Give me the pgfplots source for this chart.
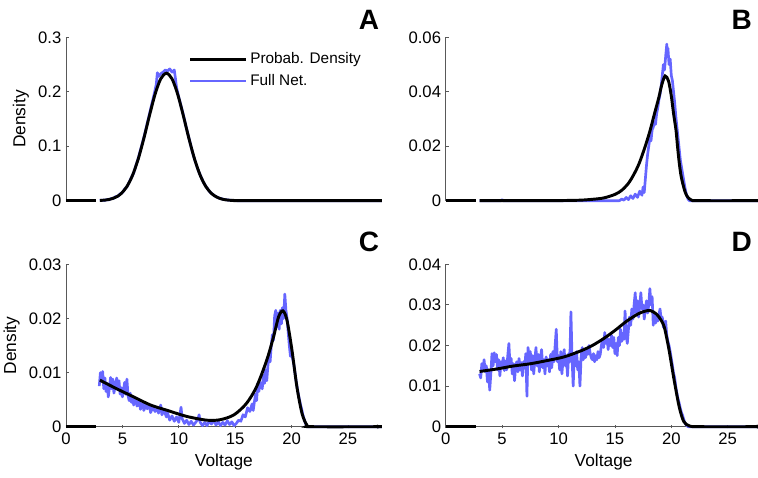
\documentclass[border=0pt]{standalone}
\usepackage{fontspec}
\setmainfont{Liberation Sans}
\usepackage{pgfplots}
\pgfplotsset{compat=1.18}
\definecolor{netblue}{RGB}{102,102,255}
\pgfplotsset{
  panel/.style={
    scale only axis, width=236.85pt, xmin=0, xmax=28, ymin=0,
    axis y line=left,
    axis line style={-, draw=black!65, line width=0.6pt},
    tick align=inside, major tick length=2.5pt,
    tick style={draw=black!65, line width=0.6pt},
    tick label style={font=\fontsize{12.5}{14}\selectfont},
    /pgf/number format/assume math mode=true,
    yticklabel style={/pgf/number format/fixed, /pgf/number format/precision=2},
    scaled y ticks=false,
    label style={font=\fontsize{13}{15}\selectfont},
    clip=false,
  },
  toppanel/.style={panel, axis x line=none, height=122.55pt},
  botpanel/.style={panel, axis x line=bottom, height=121.8pt, xtick={0,5,10,15,20,25}, xlabel={Voltage}},
  bl/.style={black, line width=2.2pt, smooth, tension=0.5},
  nb/.style={netblue, line width=2pt, line join=round},
}
\begin{document}
\begin{tikzpicture}
\useasboundingbox (0,0) rectangle (568.5pt,358.5pt);
% ---------------- A ----------------
\begin{axis}[toppanel, at={(49.5pt,207.98pt)}, anchor=south west,
  ymax=0.3, ytick={0,0.1,0.2,0.3}, ylabel={Density},
  legend style={draw=none, fill=none, at={(0.375,0.94)}, anchor=north west,
    font=\fontsize{11.5}{13}\selectfont, row sep=2.5pt, cells={anchor=west}},
  legend image code/.code={\draw[#1] (0pt,0pt) -- (42pt,0pt);}]
\addplot[nb, forget plot] coordinates {(0,0) (2.7,0)};
\addplot[nb, forget plot] coordinates {
(3.0,0.0003) (3.2,0.0010) (3.4,0.0004) (3.6,0.0020) (3.8,0.0015) (4.0,0.0040)
(4.2,0.0038) (4.4,0.0075) (4.6,0.0080) (4.8,0.0125) (5.0,0.0148) (5.2,0.0212)
(5.4,0.0255) (5.6,0.0340) (5.8,0.0425) (6.0,0.0510) (6.2,0.0645) (6.4,0.0775)
(6.6,0.0930) (6.8,0.1080) (7.0,0.1240) (7.2,0.1420) (7.4,0.1590) (7.6,0.1770)
(7.8,0.1940) (8.0,0.2130) (8.1,0.2350) (8.2,0.2280) (8.4,0.2330) (8.6,0.2360)
(8.8,0.2400) (9.0,0.2380) (9.2,0.2420) (9.4,0.2360) (9.6,0.2400) (9.7,0.2250)
(9.8,0.2080) (10.0,0.1900) (10.2,0.1740) (10.4,0.1580) (10.6,0.1400) (10.8,0.1230)
(11.0,0.1070) (11.2,0.0900) (11.4,0.0760) (11.6,0.0630) (11.8,0.0520) (12.0,0.0425)
(12.2,0.0330) (12.4,0.0265) (12.6,0.0205) (12.8,0.0150) (13.0,0.0118) (13.2,0.0085)
(13.4,0.0065) (13.6,0.0045) (13.8,0.0035) (14.0,0.0022) (14.4,0.0012) (14.8,0.0004)
(15.2,0) (16,0) (28,0)};
\addplot[bl, forget plot] coordinates {(0,0) (2.7,0)};
\addplot[bl, forget plot] coordinates {
(3.0,0.0005) (3.5,0.0012) (4.0,0.0032) (4.5,0.0073) (4.9,0.0133) (5.4,0.0260)
(5.9,0.0466) (6.4,0.0763) (6.9,0.1142) (7.4,0.1563) (7.9,0.1956) (8.4,0.2238)
(8.9,0.2340) (9.4,0.2238) (9.9,0.1956) (10.4,0.1563) (10.9,0.1142) (11.4,0.0763)
(11.9,0.0466) (12.4,0.0260) (12.9,0.0133) (13.4,0.0062) (13.9,0.0026) (14.4,0.0010)
(14.9,0.0004) (16,0) (28,0)};
\addlegendimage{black, line width=2.2pt}
\addlegendentry{Probab. Density}
\addlegendimage{netblue, line width=2pt}
\addlegendentry{Full Net.}
\end{axis}
% ---------------- B ----------------
\begin{axis}[toppanel, at={(334.3pt,207.98pt)}, anchor=south west,
  ymax=0.06, ytick={0,0.02,0.04,0.06}]
\addplot[nb] coordinates {(0,0) (2.7,0)};
\addplot[nb] coordinates {
(3,0) (4.9,0) (5.0,0.0004) (5.1,0) (15.4,0) (15.6,0.0006) (15.8,0.0002) (16.0,0.0012)
(16.2,0.0004) (16.4,0.0018) (16.6,0.0008) (16.8,0.0024) (17.0,0.0012) (17.2,0.0035)
(17.4,0.0020) (17.5,0.0050) (17.6,0.0030) (17.7,0.0080) (17.8,0.0130) (17.9,0.0170)
(18.0,0.0200) (18.1,0.0230) (18.2,0.0220) (18.3,0.0260) (18.4,0.0270) (18.5,0.0290)
(18.6,0.0280) (18.7,0.0320) (18.8,0.0340) (18.9,0.0370) (19.0,0.0390) (19.1,0.0420)
(19.2,0.0460) (19.3,0.0500) (19.4,0.0480) (19.5,0.0530) (19.6,0.0575) (19.65,0.0540)
(19.7,0.0560) (19.8,0.0500) (19.9,0.0520) (20.0,0.0460) (20.1,0.0440) (20.2,0.0400)
(20.3,0.0360) (20.4,0.0310) (20.5,0.0270) (20.6,0.0230) (20.7,0.0190) (20.8,0.0150)
(20.9,0.0125) (21.0,0.0100) (21.1,0.0075) (21.2,0.0050) (21.3,0.0030) (21.4,0.0015)
(21.5,0.0005) (21.6,0) (28,0)};
\addplot[bl] coordinates {(0,0) (2.7,0)};
\addplot[bl] coordinates {
(3,0) (9,0) (11,0.0001) (12,0.0002) (13,0.0005) (14,0.0010) (15,0.0023) (15.6,0.0038)
(16.2,0.0064) (16.7,0.0098) (17.15,0.0137) (17.65,0.0195) (18.1,0.0255) (18.5,0.0318)
(18.9,0.0380) (19.15,0.0425) (19.45,0.0458) (19.75,0.0440) (20.0,0.0385) (20.2,0.0320)
(20.42,0.0258) (20.55,0.0200) (20.71,0.0137) (20.85,0.0095) (21.01,0.0064) (21.2,0.0035)
(21.42,0.0015) (21.8,0.0002) (22.5,0) (28,0)};
\end{axis}
% ---------------- C ----------------
\begin{axis}[botpanel, at={(49.5pt,38.48pt)}, anchor=south west,
  ymax=0.03, ytick={0,0.01,0.02,0.03}, ylabel={Density}]
\addplot[nb] coordinates {(0,0) (2.7,0)};
\addplot[nb] coordinates {
(2.95,0.0075) (3.05,0.0100) (3.15,0.0085) (3.25,0.0102) (3.35,0.0070) (3.45,0.0090)
(3.55,0.0065) (3.65,0.0080) (3.75,0.0055) (3.85,0.0072) (3.95,0.0091) (4.05,0.0070)
(4.15,0.0088) (4.25,0.0062) (4.35,0.0075) (4.5,0.0090) (4.6,0.0068) (4.7,0.0085)
(4.8,0.0060) (4.9,0.0072) (5.0,0.0055) (5.1,0.0068) (5.2,0.0082) (5.3,0.0060)
(5.4,0.0088) (5.5,0.0058) (5.6,0.0048) (5.7,0.0062) (5.8,0.0045) (5.9,0.0055)
(6.0,0.0040) (6.2,0.0052) (6.3,0.0038) (6.5,0.0047) (6.6,0.0032) (6.8,0.0044)
(6.9,0.0030) (7.1,0.0041) (7.2,0.0033) (7.4,0.0040) (7.5,0.0026) (7.7,0.0036)
(7.9,0.0028) (8.1,0.0035) (8.2,0.0025) (8.4,0.0040) (8.5,0.0022) (8.7,0.0030)
(8.9,0.0018) (9.0,0.0026) (9.2,0.0012) (9.4,0.0020) (9.6,0.0010) (9.8,0.0018)
(10.0,0.0008) (10.1,0.0022) (10.2,0.0036) (10.3,0.0015) (10.5,0.0006) (10.7,0.0012)
(10.9,0.0004) (11.1,0.0010) (11.3,0.0003) (11.5,0.0008) (11.7,0.0014) (11.8,0.0022)
(11.9,0.0008) (12.1,0.0002) (12.3,0.0008) (12.5,0.0002) (12.7,0.0010) (12.9,0.0005)
(13.1,0.0012) (13.3,0.0003) (13.5,0.0009) (13.7,0.0002) (13.9,0.0008) (14.1,0.0003)
(14.3,0.0011) (14.5,0.0004) (14.7,0.0009) (14.9,0.0002) (15.1,0.0006) (15.3,0.0012)
(15.5,0.0010) (15.7,0.0022) (15.9,0.0018) (16.1,0.0035) (16.3,0.0028) (16.5,0.0042)
(16.6,0.0030) (16.8,0.0060) (16.9,0.0048) (17.0,0.0080) (17.1,0.0065) (17.2,0.0082)
(17.4,0.0070) (17.5,0.0095) (17.6,0.0080) (17.7,0.0105) (17.8,0.0085) (17.9,0.0112)
(18.0,0.0130) (18.1,0.0120) (18.2,0.0150) (18.3,0.0170) (18.4,0.0160) (18.5,0.0205)
(18.6,0.0215) (18.7,0.0185) (18.8,0.0210) (18.9,0.0180) (19.0,0.0215) (19.1,0.0190)
(19.2,0.0220) (19.3,0.0200) (19.4,0.0245) (19.5,0.0215) (19.6,0.0200) (19.7,0.0175)
(19.8,0.0150) (19.9,0.0130) (20.0,0.0135) (20.1,0.0125) (20.2,0.0115) (20.3,0.0100)
(20.4,0.0085) (20.5,0.0072) (20.6,0.0060) (20.7,0.0050) (20.8,0.0040) (20.9,0.0032)
(21.0,0.0022) (21.1,0.0015) (21.2,0.0008) (21.3,0.0003) (21.4,0) (28,0)};
\addplot[bl] coordinates {(0,0) (2.7,0)};
\addplot[bl] coordinates {
(3,0.0086) (4.5,0.0070) (6.0,0.0055) (7.5,0.0040) (9.0,0.0030) (10.7,0.0019)
(12.5,0.0012) (13.7,0.0013) (14.9,0.0022) (16.0,0.0043) (16.9,0.0074) (17.8,0.0123)
(18.4,0.0166) (18.85,0.0203) (19.23,0.0214) (19.59,0.0197) (20.03,0.0142) (20.47,0.0074)
(20.92,0.0025) (21.36,0.0003) (21.8,0) (28,0)};
\end{axis}
% ---------------- D ----------------
\begin{axis}[botpanel, at={(334.3pt,38.48pt)}, anchor=south west,
  ymax=0.04, ytick={0,0.01,0.02,0.03,0.04}]
\addplot[nb] coordinates {(0,0) (2.7,0)};
\addplot[nb] coordinates {
(3.0,0.0130) (3.1,0.0120) (3.2,0.0155) (3.3,0.0140) (3.4,0.0165) (3.5,0.0135)
(3.6,0.0150) (3.7,0.0110) (3.8,0.0140) (3.9,0.0090) (4.0,0.0130) (4.1,0.0180)
(4.2,0.0150) (4.3,0.0182) (4.4,0.0160) (4.5,0.0178) (4.6,0.0140) (4.7,0.0165)
(4.8,0.0125) (4.9,0.0160) (5.0,0.0148) (5.1,0.0170) (5.2,0.0138) (5.3,0.0162)
(5.4,0.0140) (5.5,0.0175) (5.6,0.0205) (5.7,0.0150) (5.8,0.0168) (5.9,0.0130)
(6.0,0.0155) (6.1,0.0113) (6.2,0.0150) (6.3,0.0160) (6.4,0.0135) (6.5,0.0168)
(6.6,0.0140) (6.7,0.0158) (6.8,0.0125) (6.9,0.0160) (7.0,0.0145) (7.1,0.0180)
(7.2,0.0075) (7.3,0.0195) (7.4,0.0160) (7.5,0.0185) (7.6,0.0140) (7.7,0.0175)
(7.8,0.0130) (7.9,0.0165) (8.0,0.0195) (8.1,0.0150) (8.2,0.0178) (8.3,0.0135)
(8.4,0.0170) (8.5,0.0190) (8.6,0.0145) (8.7,0.0165) (8.8,0.0130) (8.9,0.0172)
(9.0,0.0150) (9.1,0.0165) (9.2,0.0135) (9.3,0.0178) (9.4,0.0145) (9.5,0.0185)
(9.6,0.0160) (9.7,0.0200) (9.8,0.0240) (9.9,0.0160) (10.0,0.0175) (10.1,0.0140)
(10.2,0.0185) (10.3,0.0130) (10.4,0.0165) (10.5,0.0190) (10.6,0.0150) (10.7,0.0170)
(10.8,0.0125) (10.9,0.0180) (11.0,0.0160) (11.1,0.0283) (11.2,0.0170) (11.3,0.0100)
(11.4,0.0175) (11.5,0.0150) (11.6,0.0185) (11.7,0.0140) (11.8,0.0160) (11.9,0.0100)
(12.0,0.0170) (12.1,0.0195) (12.2,0.0165) (12.3,0.0185) (12.4,0.0170) (12.5,0.0190)
(12.6,0.0178) (12.7,0.0200) (12.8,0.0182) (12.9,0.0170) (13.0,0.0165) (13.1,0.0180)
(13.2,0.0160) (13.3,0.0175) (13.4,0.0165) (13.5,0.0185) (13.6,0.0170) (13.7,0.0178)
(13.8,0.0200) (13.9,0.0215) (14.0,0.0195) (14.1,0.0232) (14.2,0.0205) (14.3,0.0222)
(14.4,0.0190) (14.5,0.0215) (14.6,0.0200) (14.7,0.0225) (14.8,0.0195) (14.9,0.0220)
(15.0,0.0180) (15.1,0.0205) (15.2,0.0175) (15.3,0.0220) (15.4,0.0200) (15.5,0.0240)
(15.6,0.0210) (15.7,0.0230) (15.8,0.0215) (15.9,0.0285) (16.0,0.0225) (16.1,0.0205)
(16.2,0.0240) (16.3,0.0270) (16.4,0.0250) (16.5,0.0290) (16.6,0.0265) (16.7,0.0300)
(16.8,0.0330) (16.9,0.0280) (17.0,0.0310) (17.1,0.0270) (17.2,0.0300) (17.3,0.0330)
(17.4,0.0290) (17.5,0.0300) (17.6,0.0265) (17.7,0.0290) (17.8,0.0310) (17.9,0.0280)
(18.0,0.0300) (18.1,0.0340) (18.2,0.0300) (18.3,0.0320) (18.4,0.0250) (18.5,0.0280)
(18.6,0.0255) (18.7,0.0270) (18.8,0.0260) (18.9,0.0275) (19.0,0.0290) (19.1,0.0265)
(19.2,0.0270) (19.3,0.0245) (19.4,0.0255) (19.5,0.0260) (19.6,0.0225) (19.7,0.0210)
(19.8,0.0200) (19.9,0.0185) (20.0,0.0168) (20.1,0.0150) (20.2,0.0132) (20.3,0.0120)
(20.4,0.0098) (20.5,0.0082) (20.6,0.0068) (20.7,0.0058) (20.8,0.0045) (20.9,0.0035)
(21.0,0.0028) (21.1,0.0018) (21.2,0.0010) (21.3,0.0005) (21.4,0.0002) (21.5,0) (28,0)};
\addplot[bl] coordinates {(0,0) (2.7,0)};
\addplot[bl] coordinates {
(3,0.0136) (4.5,0.0142) (6,0.01495) (7.5,0.0155) (9,0.0163) (10.5,0.0172) (12,0.0187)
(13,0.0200) (14,0.0217) (15,0.0237) (16,0.0259) (17,0.0277) (17.6,0.0284) (18.15,0.0286)
(18.7,0.0277) (19.1,0.0262) (19.4,0.0243) (19.8,0.0189) (20.25,0.0115) (20.7,0.0049)
(21.1,0.0013) (21.6,0.0002) (22.5,0) (28,0)};
\end{axis}
% panel letters
\node[font=\fontsize{21}{24}\selectfont\bfseries] at (276.75pt,343.5pt) {A};
\node[font=\fontsize{21}{24}\selectfont\bfseries, anchor=east] at (567.5pt,343.5pt) {B};
\node[font=\fontsize{21}{24}\selectfont\bfseries] at (276.75pt,177pt) {C};
\node[font=\fontsize{21}{24}\selectfont\bfseries, anchor=east] at (567.5pt,177pt) {D};
\end{tikzpicture}
\end{document}
